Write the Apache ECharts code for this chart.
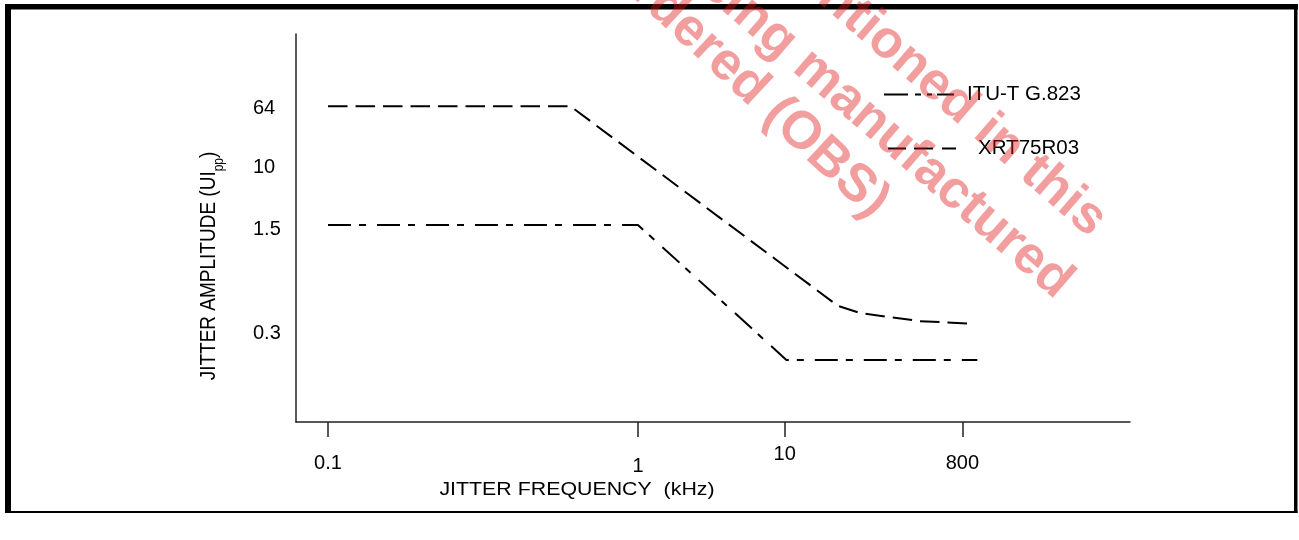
<!DOCTYPE html>
<html><head><meta charset="utf-8">
<script src="https://cdn.jsdelivr.net/npm/echarts@6/dist/echarts.min.js"></script>
<style>html,body{margin:0;padding:0;background:#fff}#c{width:1299px;height:540px}</style>
</head><body><div id="c"></div>
<script>
// The original drawing is schematic (not to scale): both axes use 0..100 "position" units.
const xTickPos = [3.84, 41.0, 58.6, 79.9];
const xTickLabels = ['0.1', '1', '10', '800'];
const xTickLabelRow = ['n', 'lo', 'hi', 'n'];
const yTickPos = [80.8, 65.7, 49.5, 22.8];
const yTickLabels = ['64', '10', '1.5', '0.3'];

const seriesNames = ['ITU-T G.823', 'XRT75R03'];
const ituX = [3.84, 41.0, 58.8, 81.7];
const ituY = [50.8, 50.8, 16.0, 16.0];
const xrtX = [3.84, 32.9, 65.0, 67.6, 70.9, 74.8, 81.2];
const xrtY = [81.4, 81.4, 29.9, 28.1, 27.1, 26.0, 25.3];

const xTitle = 'JITTER FREQUENCY  (kHz)';
const yTitle = 'JITTER AMPLITUDE (UI{sub|pp})';
const watermarkLines = ['mentioned in this', 'being manufactured', 'ordered (OBS)'];

const FONT = '"Liberation Sans", Arial, sans-serif';
const chart = echarts.init(document.getElementById('c'), null, {renderer: 'canvas'});

function zip(xs, ys) { return xs.map((x, i) => [x, ys[i]]); }
const wmAngles = [41, 41, 43];
const wmAnchors = [[1099, 227], [1065, 289], [881, 209]];
const wmStyle = {fill: 'rgba(225,25,25,0.42)', fontFamily: FONT, fontSize: 53, fontWeight: 'bold', align: 'right', verticalAlign: 'middle'};
const tickFont = {fontSize: 20, fontFamily: FONT, color: '#000'};

const option = {
  animation: false,
  backgroundColor: '#fff',
  grid: {left: 296, top: 34, width: 834, height: 388},
  xAxis: {
    type: 'value', min: 0, max: 100,
    axisLine: {show: true, lineStyle: {color: '#222', width: 1.5}},
    axisTick: {show: true, customValues: xTickPos, length: 15, lineStyle: {color: '#222', width: 1.5}},
    axisLabel: Object.assign({
      customValues: xTickPos, margin: 10,
      formatter: function (v) {
        const i = xTickPos.indexOf(v);
        return i < 0 ? '' : '{' + xTickLabelRow[i] + '|' + xTickLabels[i] + '}';
      },
      rich: {
        n: Object.assign({padding: [21, 0, 0, 0]}, tickFont),
        lo: Object.assign({padding: [24, 0, 0, 0]}, tickFont),
        hi: Object.assign({padding: [12, 0, 0, 0]}, tickFont)
      }
    }, tickFont),
    splitLine: {show: false}
  },
  yAxis: {
    type: 'value', min: 0, max: 100,
    axisLine: {show: true, lineStyle: {color: '#222', width: 1.5}},
    axisTick: {show: false},
    axisLabel: Object.assign({
      customValues: yTickPos, align: 'left', margin: 43,
      formatter: function (v) { const i = yTickPos.indexOf(v); return i < 0 ? '' : yTickLabels[i]; }
    }, tickFont),
    splitLine: {show: false}
  },
  legend: [
    {
      data: [{name: seriesNames[0], lineStyle: {type: [24, 7, 6, 6, 5, 5, 20, 10]}}],
      left: 883, top: 84, padding: 0, itemWidth: 70, itemHeight: 20, selectedMode: false,
      itemStyle: {opacity: 0},
      textStyle: {color: '#000', fontFamily: FONT, fontSize: 20.5, padding: [0, 0, 0, 8]}
    },
    {
      data: [{name: seriesNames[1], lineStyle: {type: [18, 8, 19, 9, 14, 10]}}],
      left: 887, top: 138, padding: 0, itemWidth: 70, itemHeight: 20, selectedMode: false,
      itemStyle: {opacity: 0},
      textStyle: {color: '#000', fontFamily: FONT, fontSize: 20.5, padding: [0, 0, 0, 15]}
    }
  ],
  series: [
    {
      name: seriesNames[0], type: 'line', data: zip(ituX, ituY), symbol: 'none', silent: true,
      lineStyle: {color: '#000', width: 2, type: [23, 8, 7, 11], cap: 'butt'}
    },
    {
      name: seriesNames[1], type: 'line', data: zip(xrtX, xrtY), symbol: 'none', silent: true,
      lineStyle: {color: '#000', width: 2, type: [19.5, 8], cap: 'butt'}
    }
  ],
  graphic: {
    elements: [
      {type: 'rect', z: 1, shape: {x: 5, y: 4, width: 1293, height: 5.5}, style: {fill: '#000'}},
      {type: 'rect', z: 1, shape: {x: 5, y: 4, width: 6, height: 509}, style: {fill: '#000'}},
      {type: 'rect', z: 1, shape: {x: 1294, y: 4, width: 3.5, height: 509}, style: {fill: '#000'}},
      {type: 'rect', z: 1, shape: {x: 5, y: 511, width: 1292.5, height: 2}, style: {fill: '#000'}},
      {type: 'text', z: 5, x: 577, y: 490, scaleX: 1.22,
        style: {text: xTitle, fill: '#000', fontFamily: FONT, fontSize: 17.5, align: 'center', verticalAlign: 'middle'}},
      {type: 'text', z: 5, x: 209, y: 266, rotation: Math.PI / 2, scaleY: 1.15,
        style: {text: yTitle, fill: '#000', fontFamily: FONT, fontSize: 19, lineHeight: 30, align: 'center', verticalAlign: 'middle',
          rich: {sub: {fontSize: 12, fontFamily: FONT, fill: '#000', verticalAlign: 'bottom', lineHeight: 12}}}}
    ].concat(watermarkLines.map((t, i) => ({
      type: 'text', z: 200, x: wmAnchors[i][0], y: wmAnchors[i][1], rotation: -wmAngles[i] * Math.PI / 180, silent: true,
      style: Object.assign({text: t}, wmStyle)
    })))
  }
};
chart.setOption(option);
</script>
</body></html>
